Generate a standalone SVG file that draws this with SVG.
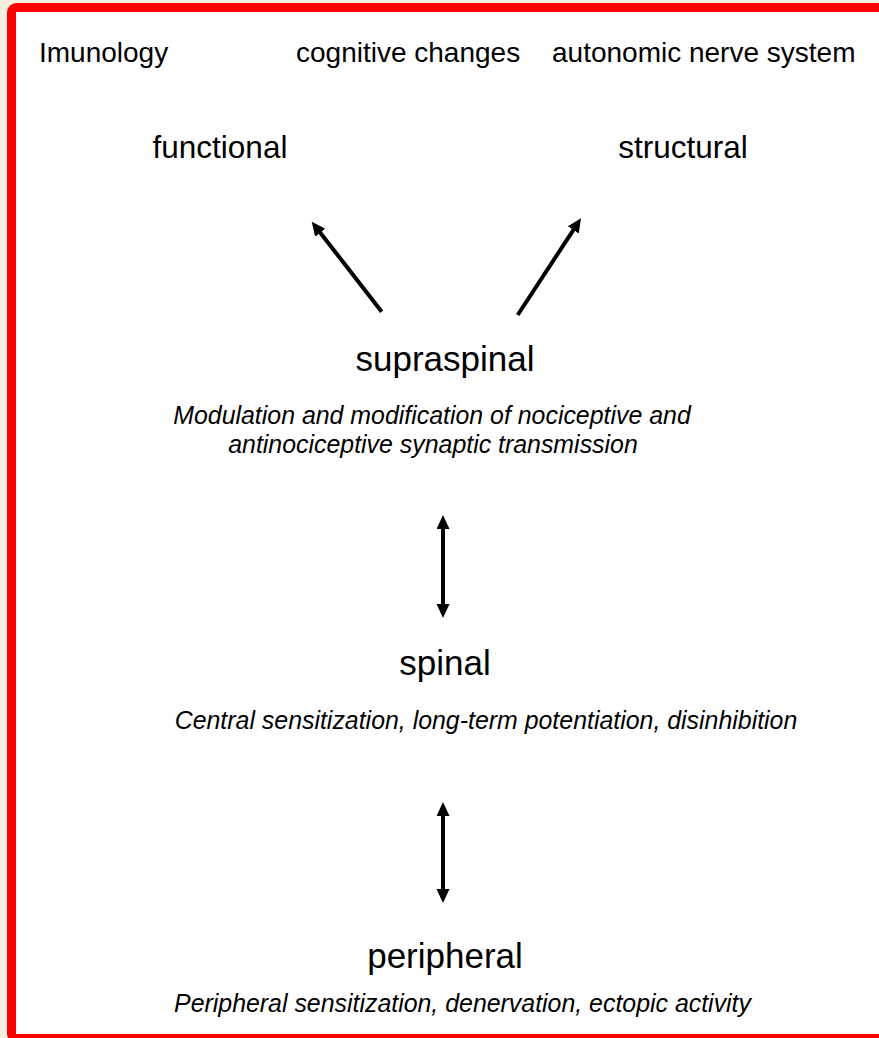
<svg xmlns="http://www.w3.org/2000/svg" width="879" height="1038" viewBox="0 0 879 1038">
  <style>
    .t { font-family: "Liberation Sans", Arial, Helvetica, sans-serif; fill: #000; }
    .top { font-size: 28px; }
    .cat { font-size: 31.5px; text-anchor: middle; }
    .lvl { font-size: 35px; text-anchor: middle; }
    .sub { font-size: 24.9px; font-style: italic; text-anchor: middle; }
    .conn { stroke: #000; stroke-width: 4; fill: none; }
  </style>
  <defs>
    <marker id="ah" markerUnits="userSpaceOnUse" markerWidth="16" markerHeight="14" refX="8" refY="6.5" orient="auto-start-reverse">
      <path d="M0,0 L14,6.5 L0,13 z" fill="#000"/>
    </marker>
  </defs>
  <rect x="0" y="0" width="879" height="1038" fill="#f8efe0"/>
  <rect x="11.5" y="7.5" width="900" height="1031" rx="5" ry="5" fill="#fff" stroke="#ff0000" stroke-width="9"/>

  <g id="imunology"><text class="t top" x="39" y="62">Imunology</text></g>
  <g id="cognitive-changes"><text class="t top" x="296" y="62">cognitive changes</text></g>
  <g id="autonomic-nerve-system"><text class="t top" x="552" y="62">autonomic nerve system</text></g>
  <g id="functional"><text class="t cat" x="220" y="158">functional</text></g>
  <g id="structural"><text class="t cat" x="683" y="158">structural</text></g>
  <g id="supraspinal">
    <text class="t lvl" x="445" y="371">supraspinal</text>
    <text class="t sub" x="432" y="424">Modulation and modification of nociceptive and</text>
    <text class="t sub" x="433" y="453">antinociceptive synaptic transmission</text>
  </g>
  <g id="spinal">
    <text class="t lvl" x="445" y="675">spinal</text>
    <text class="t sub" x="486" y="729">Central sensitization, long-term potentiation, disinhibition</text>
  </g>
  <g id="peripheral">
    <text class="t lvl" x="445" y="968">peripheral</text>
    <text class="t sub" x="462.5" y="1012">Peripheral sensitization, denervation, ectopic activity</text>
  </g>

  <g id="connectors">
    <line class="conn" x1="381.7" y1="311.7" x2="315.4" y2="226.4" marker-end="url(#ah)"/>
    <line class="conn" x1="517.7" y1="315" x2="577.7" y2="223.3" marker-end="url(#ah)"/>
    <line class="conn" x1="443" y1="521" x2="443" y2="612" marker-start="url(#ah)" marker-end="url(#ah)"/>
    <line class="conn" x1="443" y1="808" x2="443" y2="897" marker-start="url(#ah)" marker-end="url(#ah)"/>
  </g>
</svg>
